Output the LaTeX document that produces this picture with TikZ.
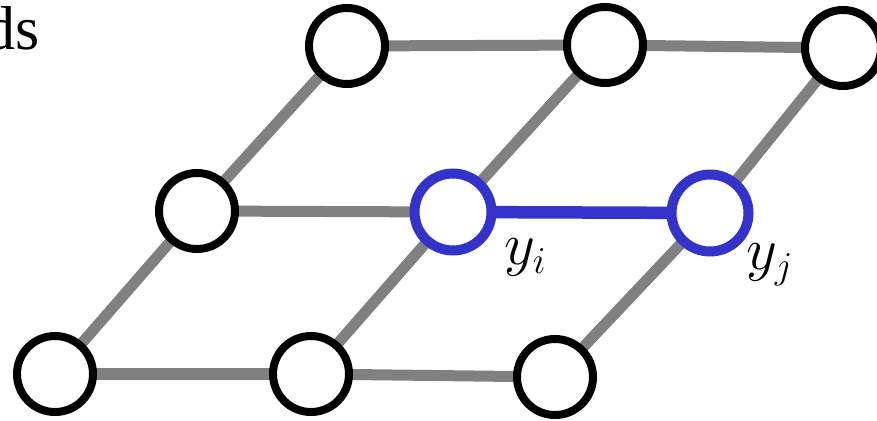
\RequirePackage{fix-cm}
\documentclass[tikz,border=0pt]{standalone}
\usepackage{fontspec}
\setmainfont{Liberation Serif}
\DeclareMathSizes{60}{60}{38}{30}
\definecolor{edgegray}{RGB}{128,128,128}
\definecolor{selblue}{RGB}{51,51,204}
\tikzset{
  vtx/.style={circle, draw=black, line width=8pt, fill=white, inner sep=0pt, minimum size=76pt},
  selvtx/.style={circle, draw=selblue, line width=10pt, fill=white, inner sep=0pt, minimum size=77pt},
  gedge/.style={draw=edgegray, line width=11pt},
  bedge/.style={draw=selblue, line width=12.5pt},
  lbl/.style={inner sep=0pt, anchor=base west, font=\fontsize{60}{70}\selectfont},
}
\begin{document}
\begin{tikzpicture}[x=1pt,y=1pt]
\useasboundingbox (0,0) rectangle (877,420);
% coordinates (pixel positions, y flipped)
\coordinate (cb0) at (55,46);
\coordinate (cb1) at (311,46);
\coordinate (cb2) at (555,43);
\coordinate (cm0) at (197,209);
\coordinate (cm1) at (453,208);
\coordinate (cm2) at (710,207);
\coordinate (ct0) at (347,374);
\coordinate (ct1) at (605,375);
\coordinate (ct2) at (843,372);
% edges
\draw[gedge] (cb0) -- (cb1);
\draw[gedge] (cb1) -- (cb2);
\draw[gedge] (cm0) -- (cm1);
\draw[gedge] (ct0) -- (ct1);
\draw[gedge] (ct1) -- (ct2);
\draw[gedge] (cb0) -- (cm0);
\draw[gedge] (cm0) -- (ct0);
\draw[gedge] (cb1) -- (cm1);
\draw[gedge] (cm1) -- (ct1);
\draw[gedge] (cb2) -- (cm2);
\draw[gedge] (cm2) -- (ct2);
\draw[bedge] (cm1) -- (cm2);
% nodes
\node[vtx] (b0) at (cb0) {};
\node[vtx] (b1) at (cb1) {};
\node[vtx] (b2) at (cb2) {};
\node[vtx] (m0) at (cm0) {};
\node[selvtx] (m1) at (cm1) {};
\node[selvtx] (m2) at (cm2) {};
\node[vtx] (t0) at (ct0) {};
\node[vtx] (t1) at (ct1) {};
\node[vtx] (t2) at (ct2) {};
% labels
\node[lbl] (yi) at (504,155) {$y_i$};
\node[lbl] (yj) at (746,150) {$y_j$};
\node[inner sep=0pt, anchor=base east, font=\fontsize{62}{70}\selectfont] (ds) at (40,370) {ds};
\end{tikzpicture}
\end{document}
